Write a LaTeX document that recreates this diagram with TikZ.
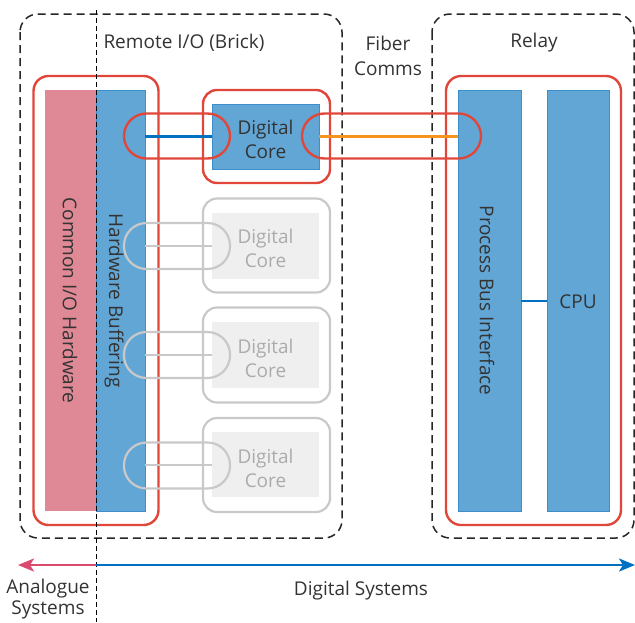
\documentclass[tikz,border=0pt]{standalone}
\usepackage{fontspec}
\setmainfont{Open Sans}
\usetikzlibrary{arrows.meta}
\definecolor{redline}{HTML}{E0473A}
\definecolor{bluefill}{HTML}{62A6D6}
\definecolor{blueedge}{HTML}{3C8FCB}
\definecolor{pinkfill}{HTML}{E08996}
\definecolor{grayedge}{HTML}{C9C9C9}
\definecolor{grayfill}{HTML}{EEEFEE}
\definecolor{graytext}{HTML}{ABABAB}
\definecolor{txt}{HTML}{333333}
\definecolor{linkblue}{HTML}{0070C0}
\definecolor{linkorange}{HTML}{F7941D}
\definecolor{arrpink}{HTML}{D94A6E}
\begin{document}
\begin{tikzpicture}[x=1pt,y=-1pt,
  font=\fontsize{19}{24}\selectfont, text=txt,
  zone/.style={draw=black!85, line width=1.5pt, dash pattern=on 8pt off 5pt, rounded corners=18pt},
  redbox/.style={draw=redline, line width=2.4pt, rounded corners=15pt, inner sep=0pt},
  bluebox/.style={fill=bluefill, draw=blueedge, line width=0.8pt, inner sep=0pt, align=center},
  pinkbox/.style={fill=pinkfill, draw=none, inner sep=0pt},
  pill/.style={draw=redline, line width=2.4pt, rounded corners=22.5pt, minimum width=106pt, minimum height=45pt, inner sep=0pt},
  graypill/.style={draw=grayedge, line width=2.2pt, rounded corners=22.5pt, minimum width=106pt, minimum height=46pt, inner sep=0pt},
  grayout/.style={draw=grayedge, line width=2.2pt, rounded corners=14pt, minimum width=127pt, inner sep=0pt},
  grayin/.style={fill=grayfill, draw=none, minimum width=107pt, minimum height=66pt, inner sep=0pt},
  graylink/.style={draw=grayedge, line width=2pt},
  lbl/.style={align=center, inner sep=0pt},
  corelbl/.style={align=center, inner sep=0pt, yshift=-2.5pt}
]
\useasboundingbox (0,0) rectangle (635,622);

% zones
\draw[zone] (20,14) rectangle (342,538);
\draw[zone] (432,14) rectangle (634,538);

% labels of zones
\node[lbl] (tremote) at (184,43) {Remote I/O (Brick)};
\node[lbl, font=\fontsize{19}{25}\selectfont] (tfiber) at (388,56) {Fiber\\Comms};
\node[lbl] (trelay) at (534,43) {Relay};

% gray digital cores
\node[grayout, minimum height=94pt] (g1o) at (266.5,245.5) {};
\node[grayin, minimum height=66pt] (g1) at (265.5,246) {};
\node[corelbl, text=graytext] at (g1.center) {Digital\\Core};
\node[grayout, minimum height=95pt] (g2o) at (266.5,355) {};
\node[grayin] (g2) at (265.5,355) {};
\node[corelbl, text=graytext, yshift=-1pt] at (g2.center) {Digital\\Core};
\node[grayout, minimum height=94pt] (g3o) at (266.5,465) {};
\node[grayin, minimum height=65pt] (g3) at (265.5,464.5) {};
\node[corelbl, text=graytext, yshift=-1pt] at (g3.center) {Digital\\Core};

% left red box
\node[redbox, minimum width=125pt, minimum height=449pt] (leftred) at (96,300.5) {};
\node[pinkbox, minimum width=51pt, minimum height=421pt] (common) at (70.5,300.5) {};
\node[bluebox, minimum width=49pt, minimum height=421pt] (buffer) at (120.5,300.5) {};

% gray links and pills
\draw[graylink] (buffer.east |- g1.west) -- (g1.west);
\draw[graylink] (buffer.east |- g2.west) -- (g2.west);
\draw[graylink] (buffer.east |- g3.west) -- (g3.west);
\node[graypill] (gp1) at (177,246) {};
\node[graypill] (gp2) at (177,355) {};
\node[graypill] (gp3) at (177,465.5) {};

\node[rotate=-90, lbl] at (70,300.5) {Common I/O Hardware};
\node[rotate=-90, lbl] at (114,300.5) {Hardware Buffering};

% active digital core
\node[redbox, minimum width=127pt, minimum height=93pt, rounded corners=14pt] (corered) at (266.5,136.5) {};
\node[bluebox, minimum width=107pt, minimum height=65pt] (core) at (265.5,136.5) {};
\node[corelbl] at (core.center) {Digital\\Core};

% relay
\node[redbox, minimum width=175pt, minimum height=449pt] (relayred) at (533.5,300.5) {};
\node[bluebox, minimum width=63pt, minimum height=421pt] (pbi) at (489.5,300.5) {};
\node[bluebox, minimum width=62pt, minimum height=421pt] (cpu) at (578,300.5) {};
\node[rotate=-90, lbl] at (487,300.5) {Process Bus Interface};
\node[lbl] at (578,302) {CPU};
\draw[linkblue, line width=2pt] (pbi.east) -- (cpu.west);

% links
\draw[linkblue, line width=2.2pt] (buffer.east |- core.west) -- (core.west);
\draw[linkorange, line width=2.2pt] (core.east) -- (pbi.west |- core.east);
\node[pill] (pill1) at (177,136) {};
\node[pill, minimum width=179pt] (pill2) at (391.5,136) {};

% divider
\coordinate (dtop) at (96,10);
\coordinate (dbot) at (96,622);
\draw[black, line width=1pt, dash pattern=on 5pt off 3pt] (dtop) -- (dbot);

% bottom arrows
\coordinate (split) at (96,565);
\coordinate (aleft) at (18,565);
\coordinate (aright) at (635,565);
\draw[arrpink, line width=2.5pt, -{Stealth[length=16pt,width=13pt,inset=4pt]}] (split) -- (aleft);
\draw[linkblue, line width=2.5pt, -{Stealth[length=16pt,width=13pt,inset=4pt]}] (split) -- (aright);
\node[lbl, font=\fontsize{19}{21}\selectfont] (tana) at (48,599) {Analogue\\Systems};
\node[lbl] (tdig) at (361,591) {Digital Systems};
\end{tikzpicture}
\end{document}
